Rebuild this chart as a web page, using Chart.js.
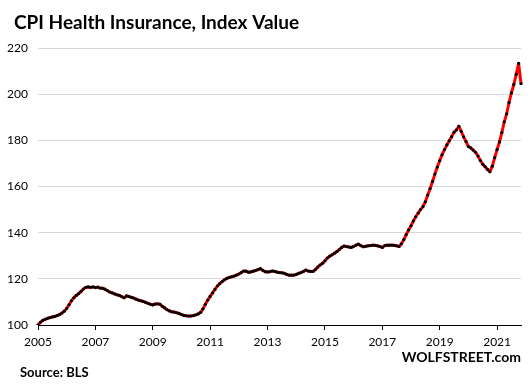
<!DOCTYPE html>
<html>
<head>
<meta charset="utf-8">
<script src="https://cdn.jsdelivr.net/npm/chart.js@4.4.0/dist/chart.umd.min.js"></script>
<style>
  body { margin: 0; background: #fff; }
  canvas { display: block; }
</style>
</head>
<body>
<canvas id="cpi-chart" width="532" height="385"></canvas>
<script>
// monthly index values, Dec 2005 .. Oct 2022
var cpiValues = [
  100, 101.2, 102, 102.5, 102.9, 103.2, 103.5, 103.7, 104.1, 104.5, 105.2, 106,
  107.2, 108.8, 110.5, 111.8, 112.8, 113.6, 114.6, 115.6, 116.3, 116.5, 116.3, 116.5,
  116.2, 116.4, 116, 115.9, 115.5, 114.9, 114.3, 113.9, 113.5, 113.1, 112.8, 112.3,
  111.8, 112.6, 112.4, 112, 111.7, 111.2, 110.8, 110.5, 110.2, 109.8, 109.4, 109,
  108.7, 109.1, 109.2, 109, 108.1, 107.4, 106.6, 106.1, 105.7, 105.6, 105.3, 105,
  104.5, 104.2, 104, 103.9, 103.9, 104.1, 104.4, 104.8, 105.5, 107, 109, 110.8,
  112.4, 113.9, 115.4, 116.9, 117.9, 118.8, 119.6, 120.2, 120.6, 120.9, 121.2, 121.6,
  122.1, 122.7, 123.4, 123.3, 122.9, 123, 123.3, 123.6, 124, 124.4, 123.7, 123.1,
  123, 123.1, 123.4, 123.2, 122.9, 122.7, 122.6, 122.4, 121.9, 121.6, 121.6, 121.6,
  121.9, 122.4, 122.7, 123.2, 123.8, 123.4, 123.2, 123.2, 124, 125.1, 126, 126.7,
  127.8, 129, 129.8, 130.4, 131.1, 131.8, 132.7, 133.6, 134.2, 134, 133.8, 133.6,
  134, 134.6, 135, 134.4, 133.9, 134.1, 134.3, 134.4, 134.6, 134.5, 134.3, 134,
  133.6, 134.4, 134.6, 134.6, 134.6, 134.5, 134.3, 134, 135.2, 137, 139.2, 141.2,
  143, 145.1, 146.9, 148.5, 150, 151.3, 153.4, 156.3, 159.1, 162.2, 165.4, 168.4,
  171.2, 173.8, 176, 178, 179.8, 181.6, 183.5, 184.5, 186.1, 183.9, 181.5, 179.5,
  177.3, 176.7, 175.8, 174.8, 173.2, 171.3, 169.6, 168.6, 167.4, 166.4, 168.8, 172.5,
  176, 179.3, 183.4, 188, 191.5, 196.4, 200.6, 204.2, 208.6, 213.3, 204.6
];

var tickYears = ['2005', '2007', '2009', '2011', '2013', '2015', '2017', '2019', '2021'];
var yTicks = [100, 120, 140, 160, 180, 200, 220];

// category labels: one per month starting Dec 2005
var months = [];
for (var i = 0; i < cpiValues.length; i++) {
  var m = (11 + i) % 12;
  var y = 2005 + Math.floor((11 + i) / 12);
  months.push(y + '-' + (m + 1));
}

var extraText = {
  id: 'extraText',
  afterDraw: function(chart) {
    var ctx = chart.ctx;
    ctx.save();
    ctx.fillStyle = '#000';
    ctx.textBaseline = 'alphabetic';
    ctx.textAlign = 'left';
    ctx.font = 'bold 19px Lato';
    ctx.fillText('CPI Health Insurance, Index Value', 14, 29);
    ctx.font = 'bold 13px Lato';
    ctx.fillText('Source: BLS', 20, 377);
    ctx.textAlign = 'right';
    ctx.font = 'bold 14px Lato';
    ctx.fillText('WOLFSTREET.com', 521, 362);
    ctx.restore();
  }
};

new Chart(document.getElementById('cpi-chart'), {
  type: 'line',
  data: {
    labels: months,
    datasets: [{
      data: cpiValues,
      borderColor: '#ff0000',
      borderWidth: 3,
      borderJoinStyle: 'round',
      borderCapStyle: 'round',
      pointRadius: 1.6,
      pointBackgroundColor: '#000',
      pointBorderWidth: 0,
      tension: 0,
      fill: false
    }]
  },
  options: {
    responsive: false,
    animation: false,
    devicePixelRatio: 1,
    layout: { padding: { left: 0, right: 11, top: 48, bottom: 30 } },
    plugins: {
      legend: { display: false },
      tooltip: { enabled: false }
    },
    scales: {
      x: {
        type: 'category',
        offset: false,
        afterFit: function(scale) { scale.height = 30; },
        grid: {
          drawOnChartArea: false,
          drawTicks: true,
          tickLength: 5,
          color: '#000'
        },
        border: { color: '#000', width: 1 },
        ticks: {
          autoSkip: false,
          maxRotation: 0,
          padding: 5,
          color: '#000',
          font: { family: 'Lato', size: 12 },
          callback: function(val, idx) {
            return idx % 24 === 0 ? tickYears[idx / 24] : null;
          }
        }
      },
      y: {
        min: yTicks[0],
        max: yTicks[yTicks.length - 1],
        afterFit: function(scale) { scale.width = 38; },
        afterBuildTicks: function(scale) {
          scale.ticks = yTicks.map(function(v) { return { value: v }; });
        },
        grid: { color: '#d9d9d9', drawTicks: false },
        border: { display: false },
        ticks: {
          padding: 10,
          color: '#000',
          font: { family: 'Lato', size: 12 }
        }
      }
    }
  },
  plugins: [extraText]
});
</script>
</body>
</html>
